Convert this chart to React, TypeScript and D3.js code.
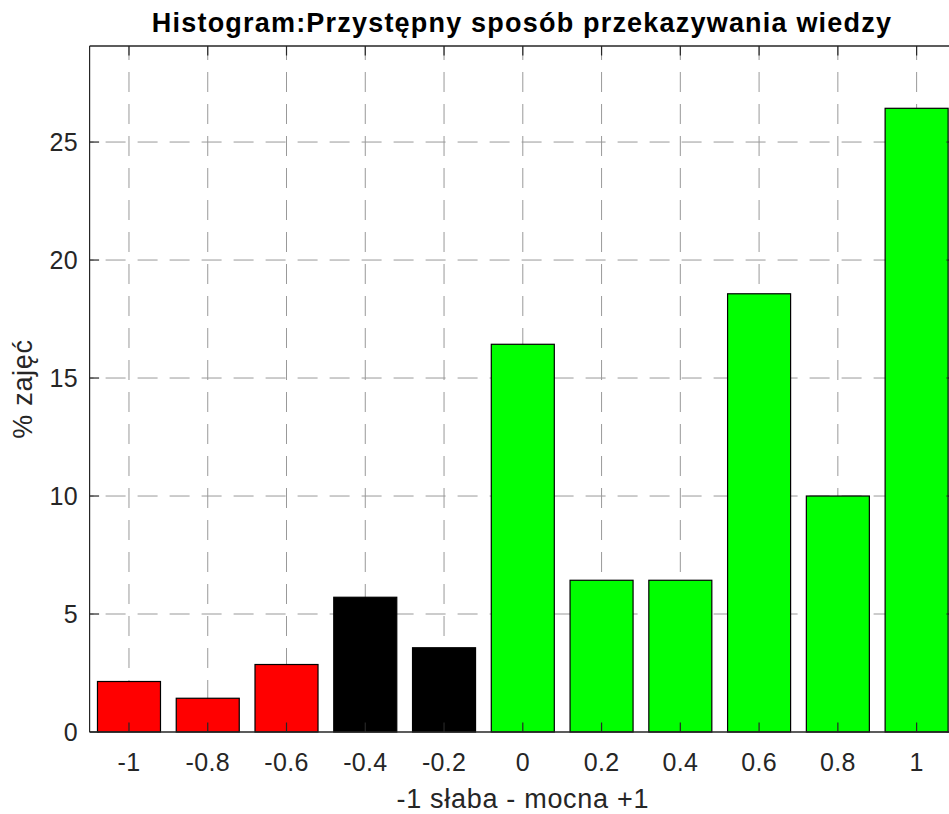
import React, { useEffect, useRef } from "react";
import * as d3 from "d3";

const binCenters = [-1, -0.8, -0.6, -0.4, -0.2, 0, 0.2, 0.4, 0.6, 0.8, 1];
const percentValues = [2.14, 1.43, 2.86, 5.71, 3.57, 16.43, 6.43, 6.43, 18.57, 10.0, 26.43];
const barColors = ["#ff0000", "#ff0000", "#ff0000", "#000000", "#000000", "#00ff00", "#00ff00", "#00ff00", "#00ff00", "#00ff00", "#00ff00"];
const xTickLabels = ["-1", "-0.8", "-0.6", "-0.4", "-0.2", "0", "0.2", "0.4", "0.6", "0.8", "1"];
const yTicks = [0, 5, 10, 15, 20, 25];
const titleText = "Histogram:Przystępny sposób przekazywania wiedzy";
const xLabelText = "-1 słaba - mocna +1";
const yLabelText = "% zajęć";

const W = 949;
const H = 814;
const left = 89.6;
const right = 956;
const top = 46;
const bottom = 732;
const axisColor = "#262626";
const gridColor = "#999999";
const font = "'Liberation Sans', Arial, Helvetica, sans-serif";

export default function App() {
  const ref = useRef<SVGSVGElement>(null);
  useEffect(() => {
    const svg = d3.select(ref.current);
    svg.selectAll("*").remove();
    const x = d3.scaleLinear().domain([-1.1, 1.1]).range([left, right]);
    const y = d3.scaleLinear().domain([0, 29.07]).range([bottom, top]);

    svg.append("rect").attr("x", 0).attr("y", 0).attr("width", W).attr("height", H).attr("fill", "#fff");

    const grid = svg.append("g");
    binCenters.forEach((v) => {
      grid.append("line")
        .attr("x1", x(v)).attr("x2", x(v))
        .attr("y1", bottom).attr("y2", top)
        .attr("stroke", gridColor).attr("stroke-width", 1)
        .attr("stroke-dasharray", "20 12");
    });
    yTicks.forEach((v) => {
      if (v === 0) return;
      grid.append("line")
        .attr("x1", left).attr("x2", right)
        .attr("y1", y(v)).attr("y2", y(v))
        .attr("stroke", gridColor).attr("stroke-width", 1)
        .attr("stroke-dasharray", "20 12").attr("stroke-dashoffset", 16);
    });

    const bw = 0.16;
    svg.append("g").selectAll("rect").data(percentValues).join("rect")
      .attr("x", (_d, i) => x(binCenters[i] - bw / 2))
      .attr("width", (_d, i) => x(binCenters[i] + bw / 2) - x(binCenters[i] - bw / 2))
      .attr("y", (d) => y(d))
      .attr("height", (d) => bottom - y(d))
      .attr("fill", (_d, i) => barColors[i])
      .attr("stroke", "#000").attr("stroke-width", 1.2);

    const ax = svg.append("g");
    ax.append("line").attr("x1", left).attr("x2", right).attr("y1", bottom).attr("y2", bottom).attr("stroke", axisColor).attr("stroke-width", 1.6);
    ax.append("line").attr("x1", left).attr("x2", right).attr("y1", top).attr("y2", top).attr("stroke", axisColor).attr("stroke-width", 1.6);
    ax.append("line").attr("x1", left).attr("x2", left).attr("y1", top).attr("y2", bottom).attr("stroke", axisColor).attr("stroke-width", 1.2);
    ax.append("line").attr("x1", right).attr("x2", right).attr("y1", top).attr("y2", bottom).attr("stroke", axisColor).attr("stroke-width", 1.2);
    const tl = 9.5;
    binCenters.forEach((v, i) => {
      ax.append("line").attr("x1", x(v)).attr("x2", x(v)).attr("y1", bottom).attr("y2", bottom - tl).attr("stroke", axisColor).attr("stroke-width", 1.2);
      ax.append("line").attr("x1", x(v)).attr("x2", x(v)).attr("y1", top).attr("y2", top + tl).attr("stroke", axisColor).attr("stroke-width", 1.2);
      ax.append("text").attr("x", x(v)).attr("y", 771).attr("text-anchor", "middle")
        .attr("font-family", font).attr("font-size", 25).attr("letter-spacing", 0.3)
        .attr("fill", axisColor).text(xTickLabels[i]);
    });
    yTicks.forEach((v) => {
      ax.append("line").attr("x1", left).attr("x2", left + tl).attr("y1", y(v)).attr("y2", y(v)).attr("stroke", axisColor).attr("stroke-width", 1.2);
      ax.append("line").attr("x1", right).attr("x2", right - tl).attr("y1", y(v)).attr("y2", y(v)).attr("stroke", axisColor).attr("stroke-width", 1.2);
      ax.append("text").attr("x", 78).attr("y", y(v)).attr("dy", "0.36em").attr("text-anchor", "end")
        .attr("font-family", font).attr("font-size", 25).attr("letter-spacing", 0.3)
        .attr("fill", axisColor).text(String(v));
    });

    svg.append("text").attr("x", (left + right) / 2).attr("y", 808).attr("text-anchor", "middle")
      .attr("font-family", font).attr("font-size", 27).attr("letter-spacing", 0.7)
      .attr("fill", axisColor).text(xLabelText);
    svg.append("text").attr("transform", `translate(32,${(top + bottom) / 2}) rotate(-90)`).attr("text-anchor", "middle")
      .attr("font-family", font).attr("font-size", 27).attr("letter-spacing", 0.7)
      .attr("fill", axisColor).text(yLabelText);
    svg.append("text").attr("x", 522).attr("y", 32).attr("text-anchor", "middle")
      .attr("font-family", font).attr("font-weight", "bold").attr("font-size", 27).attr("letter-spacing", 1.2)
      .attr("fill", "#000").text(titleText);
  }, []);
  return (
    <div style={{ position: "fixed", left: 0, top: 0 }}>
      <svg ref={ref} width={W} height={H} style={{ display: "block" }} />
    </div>
  );
}
